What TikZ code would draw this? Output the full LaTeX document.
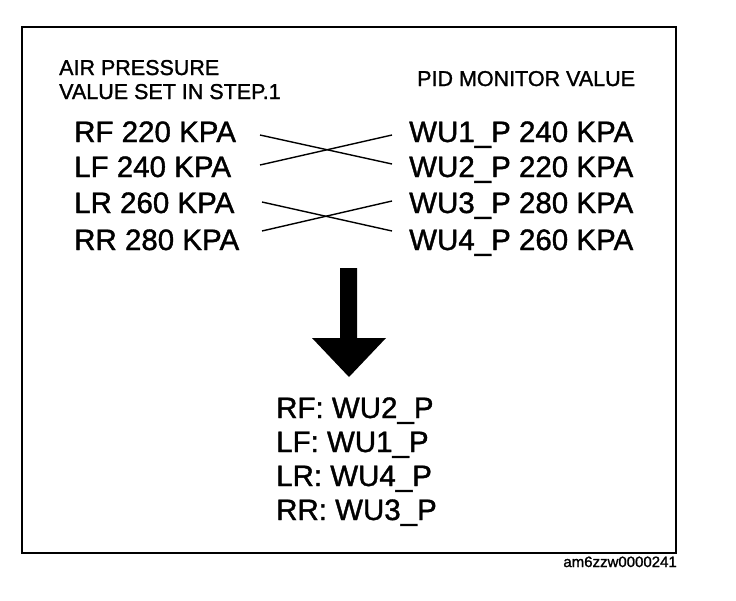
\documentclass[tikz,border=0pt]{standalone}
\usepackage{fontspec}
\setmainfont{Liberation Sans}[FakeBold=1.3]
\begin{document}
\begin{tikzpicture}[x=1pt,y=-1pt,
  big/.style={anchor=base west,inner sep=0pt,font=\fontsize{29.5}{29.5}\selectfont},
  head/.style={anchor=base west,inner sep=0pt,font=\fontsize{21.5}{21.5}\selectfont},
  cross/.style={line width=1.4pt},
  frame/.style={line width=2.6pt}]
\useasboundingbox (0,0) rectangle (736,600);
\draw[frame] (22,27) rectangle (676,553);
% headers
\node[head] (h1) at (59,75) {AIR PRESSURE};
\node[head] (h2) at (59,99) {VALUE SET IN STEP.1};
\node[head] (h3) at (417,86) {PID MONITOR VALUE};
% left column
\node[big] (rf) at (74,142) {RF 220 KPA};
\node[big] (lf) at (74,177) {LF 240 KPA};
\node[big] (lr) at (74,213) {LR 260 KPA};
\node[big] (rr) at (74,250) {RR 280 KPA};
% right column
\node[big] (w1) at (409,142) {WU1\_P 240 KPA};
\node[big] (w2) at (409,177) {WU2\_P 220 KPA};
\node[big] (w3) at (409,213) {WU3\_P 280 KPA};
\node[big] (w4) at (409,250) {WU4\_P 260 KPA};
% crossing lines
\coordinate (a1) at (260,135); \coordinate (b1) at (392,164);
\coordinate (a2) at (260,165); \coordinate (b2) at (392,135);
\coordinate (a3) at (262,202); \coordinate (b3) at (392,231);
\coordinate (a4) at (262,231); \coordinate (b4) at (392,201);
\draw[cross] (a1) -- (b1);
\draw[cross] (a2) -- (b2);
\draw[cross] (a3) -- (b3);
\draw[cross] (a4) -- (b4);
% big arrow
\fill (340,268) -- (357,268) -- (357,338) -- (386,338) -- (349,377) -- (312,338) -- (340,338) -- cycle;
% result
\node[big] (r1) at (276,418) {RF: WU2\_P};
\node[big] (r2) at (276,452) {LF: WU1\_P};
\node[big] (r3) at (276,486) {LR: WU4\_P};
\node[big] (r4) at (276,520) {RR: WU3\_P};
% code
\node[anchor=base east,inner sep=0pt,font=\fontsize{15}{15}\selectfont] (code) at (677,567) {am6zzw0000241};
\end{tikzpicture}
\end{document}
